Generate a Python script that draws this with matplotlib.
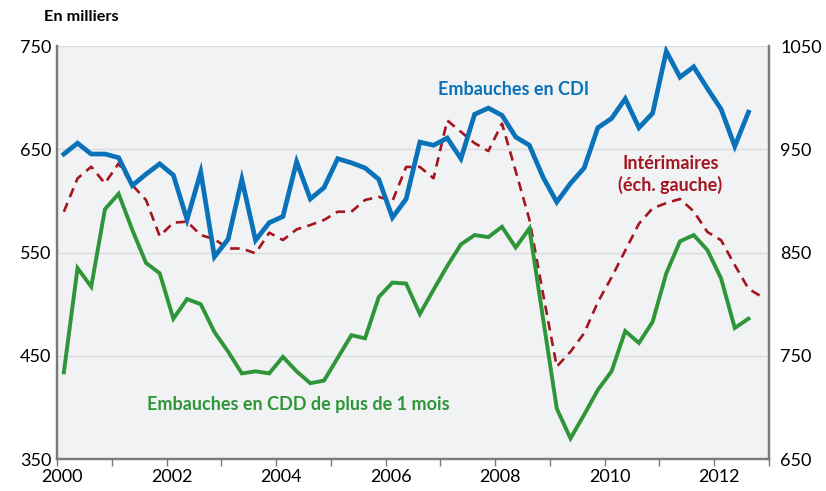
import numpy as np
import matplotlib
matplotlib.use("Agg")
import matplotlib.pyplot as plt
import matplotlib.transforms as mtransforms

plt.rcParams["font.family"] = ["Lato", "DejaVu Sans"]

# Quarterly hires, in thousands (2000Q1 onward)
cdi = [945.5, 956, 945.5, 945.5, 942, 915, 926, 936, 925, 882,
       928, 846, 863, 921, 862, 879, 885, 938, 902, 913,
       941, 937, 932, 921, 884, 902, 957, 954, 961, 941,
       984, 990, 983, 962, 954, 923, 899, 917, 932, 971,
       980, 999, 971, 985, 1045, 1020, 1030, 1009, 989, 953,
       986]
cdd = [734, 835, 817, 892, 907, 872, 840, 830, 786, 805,
       800, 773, 754, 733, 735, 733, 749, 735, 723.5, 726,
       748, 770, 767, 807, 821, 820, 790.5, 814, 837, 858,
       867, 865, 875, 855, 873.5, 786, 699, 670, 693, 717,
       735, 774, 762.5, 783, 830, 861, 867, 852.5, 825, 777,
       786]
interim = [589.6, 621.9, 633.2, 617.1, 636.4, 615.4, 601, 566, 579, 580,
           567, 563, 554, 554, 549.3, 569.3, 562.2, 572.5, 576.7, 581.6,
           589.6, 589.6, 601, 604, 600, 633, 633, 622, 678, 667,
           656, 648.4, 675, 629, 582, 510, 439.6, 454, 472, 502,
           526, 552, 578, 593, 598, 602, 590, 570, 562, 538,
           515, 507]

years = [2000, 2002, 2004, 2006, 2008, 2010, 2012]


def quarter_pos(n):
    # mid-quarter positions on a decimal-year axis
    return 2000 + (np.arange(n) + 0.5) / 4


fig = plt.figure(figsize=(8.26, 4.91), dpi=100)
ax = fig.add_axes([0.069, 0.065, 0.862, 0.841])
ax2 = ax.twinx()

ax.set_facecolor("#f0f2f4")
ax2.patch.set_visible(False)

ax.plot(quarter_pos(len(interim)), interim, color="#a3151f", lw=1.9,
        dashes=(3.6, 2.4), zorder=3)
ax2.plot(quarter_pos(len(cdd)), cdd, color="#2e9639", lw=2.8,
         solid_joinstyle="miter")
ax2.plot(quarter_pos(len(cdi)), cdi, color="#0a72b8", lw=3.4,
         solid_joinstyle="miter")

ax.set_xlim(2000, 2013)
ax.set_ylim(350, 750)
ax2.set_ylim(650, 1050)
ax.set_yticks([350, 450, 550, 650, 750])
ax2.set_yticks([650, 750, 850, 950, 1050])
ax.grid(axis="y", color="#d9dbde", lw=1)
ax.set_axisbelow(True)

ax.set_xticks(range(2000, 2014))
ax.set_xticklabels([str(y) if y in years else "" for y in range(2000, 2014)])
ax.tick_params(axis="x", direction="out", length=5, width=1, color="#7a7a7a",
               labelsize=13, pad=2)
ax.tick_params(axis="y", length=0, labelsize=13, pad=4)
ax2.tick_params(axis="y", length=0, labelsize=13, pad=8)
shift = mtransforms.ScaledTranslation(5 / 100, 0, fig.dpi_scale_trans)
for lbl in ax.get_xticklabels():
    lbl.set_transform(lbl.get_transform() + shift)

for a in (ax, ax2):
    a.spines["top"].set_visible(False)
    for s in ("left", "right", "bottom"):
        a.spines[s].set_color("#7a7a7a")
        a.spines[s].set_linewidth(1.6)

fig.text(0.053, 0.965, "En milliers", fontsize=11.7, fontweight="bold",
         va="center", ha="left")

ax2.text(2008.34, 1008, "Embauches en CDI", color="#0a72b8", fontsize=13,
         fontweight="bold", ha="center", va="center")
ax.text(2011.2, 626, "Intérimaires\n(éch. gauche)", color="#a3151f",
        fontsize=13, fontweight="bold", ha="center", va="center",
        linespacing=1.25)
ax2.text(2001.65, 702.5, "Embauches en CDD de plus de 1 mois", color="#2e9639",
         fontsize=13, fontweight="bold", ha="left", va="center")

fig.savefig("out.png", dpi=100, facecolor="white")
